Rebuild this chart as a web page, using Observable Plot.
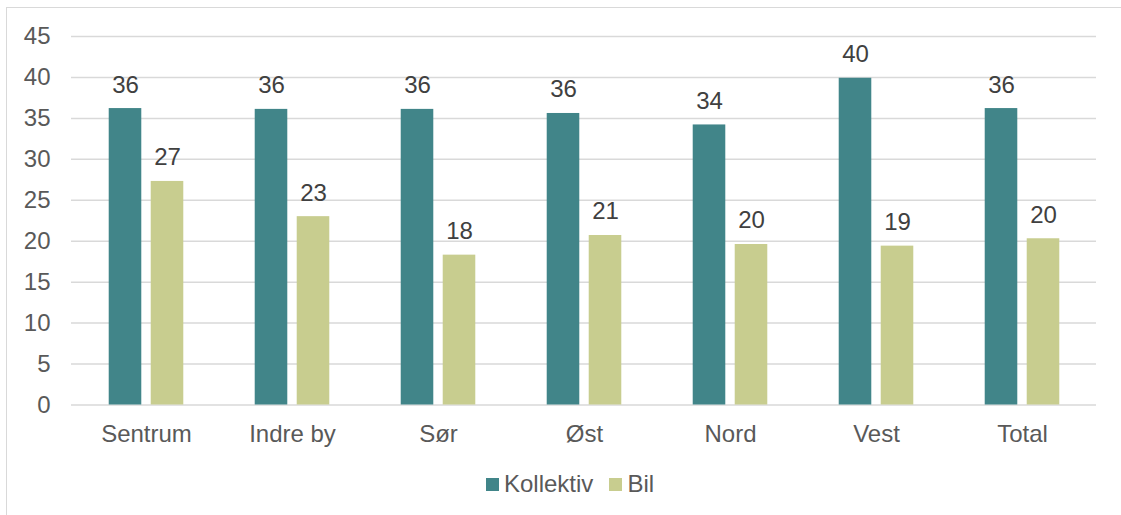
<!DOCTYPE html>
<html>
<head>
<meta charset="utf-8">
<script src="https://cdn.jsdelivr.net/npm/d3@7"></script>
<script src="https://cdn.jsdelivr.net/npm/@observablehq/plot@0.6"></script>
<style>
  html, body { margin: 0; padding: 0; background: #fff; width: 1121px; height: 515px; overflow: hidden; }
  #frame { position: absolute; left: 6px; top: 7px; width: 1300px; height: 700px; border-top: 1px solid #d9d9d9; border-left: 1px solid #d9d9d9; }
  #chart { position: absolute; left: 0; top: 0; }
  #legend { position: absolute; left: 486px; top: 470px; display: flex; align-items: center; font-family: "Liberation Sans", Arial, sans-serif; font-size: 24px; color: #595959; }
  .sw { width: 13px; height: 13px; display: inline-block; margin-right: 5px; }
  .item { display: flex; align-items: center; margin-right: 16px; }
</style>
</head>
<body>
<div id="frame"></div>
<div id="chart"></div>
<div id="legend"></div>
<script>
const categories = ["Sentrum", "Indre by", "Sør", "Øst", "Nord", "Vest", "Total"];
const series = ["Kollektiv", "Bil"];
const kollektiv = [36.2, 36.1, 36.1, 35.6, 34.2, 39.9, 36.2];
const bil = [27.3, 23.0, 18.3, 20.7, 19.6, 19.4, 20.3];
const colors = ["#418589", "#c8cd8f"];
const yTicks = [0, 5, 10, 15, 20, 25, 30, 35, 40, 45];

const data = [];
categories.forEach((c, i) => {
  data.push({cat: c, series: "Kollektiv", value: kollektiv[i]});
  data.push({cat: c, series: "Bil", value: bil[i]});
});
const kData = data.filter(d => d.series === "Kollektiv");
const bData = data.filter(d => d.series === "Bil");

const font = "'Liberation Sans', Arial, sans-serif";
const W = 1121, H = 460;
const mL = 71, mR = 25;
const bw = (W - mL - mR) / categories.length;
const inset = (bw - 33) / 2;
const off = 21;
const fs = 24;

const chart = Plot.plot({
  width: W,
  height: H,
  marginLeft: mL,
  marginRight: mR,
  marginTop: 36,
  marginBottom: 55.5,
  style: {fontFamily: font, fontSize: fs + "px", color: "#595959", background: "transparent"},
  x: {domain: categories, padding: 0, label: null},
  y: {domain: [0, 45], label: null},
  marks: [
    Plot.ruleY(yTicks, {stroke: "#d9d9d9", strokeWidth: 1.5}),
    Plot.barY(kData, {x: "cat", y: "value", fill: colors[0], dx: -off, insetLeft: inset, insetRight: inset}),
    Plot.barY(bData, {x: "cat", y: "value", fill: colors[1], dx: off, insetLeft: inset, insetRight: inset}),
    Plot.text(kData, {x: "cat", y: "value", text: d => String(Math.round(d.value)), dx: -off, dy: -16, lineAnchor: "bottom", fill: "#404040", fontSize: fs}),
    Plot.text(bData, {x: "cat", y: "value", text: d => String(Math.round(d.value)), dx: off, dy: -16, lineAnchor: "bottom", fill: "#404040", fontSize: fs}),
    Plot.axisY({ticks: yTicks, tickSize: 0, tickPadding: 21, fontSize: fs, label: null}),
    Plot.axisX({tickSize: 0, tickPadding: 19.5, fontSize: fs, label: null})
  ]
});
document.getElementById("chart").appendChild(chart);

const legend = document.getElementById("legend");
series.forEach((s, i) => {
  const item = document.createElement("div");
  item.className = "item";
  const sw = document.createElement("span");
  sw.className = "sw";
  sw.style.background = colors[i];
  const t = document.createElement("span");
  t.textContent = s;
  item.appendChild(sw);
  item.appendChild(t);
  legend.appendChild(item);
});
</script>
</body>
</html>
